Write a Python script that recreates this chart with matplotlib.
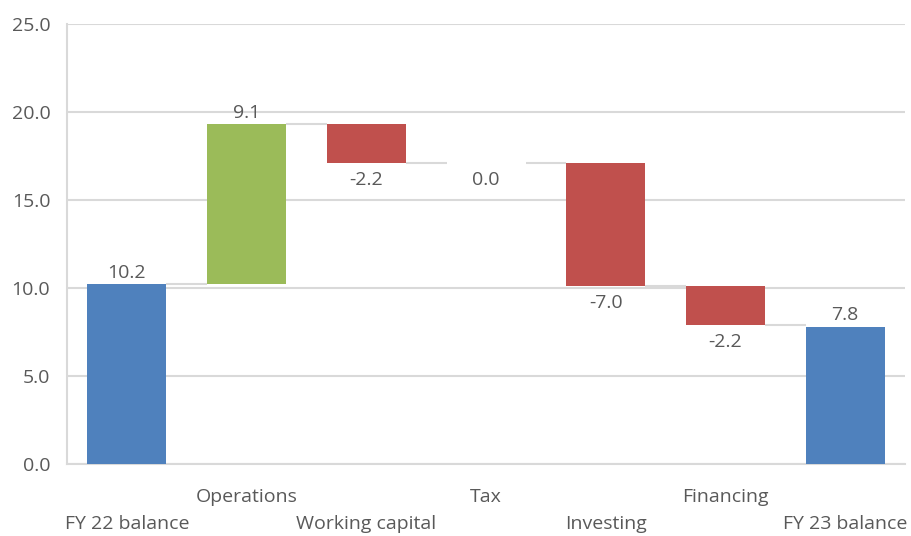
import matplotlib
matplotlib.use("Agg")
import matplotlib.pyplot as plt
from matplotlib.transforms import blended_transform_factory

categories = ["FY 22 balance", "Operations", "Working capital", "Tax",
              "Investing", "Financing", "FY 23 balance"]
changes = [10.2, 9.1, -2.2, 0.0, -7.0, -2.2, 7.8]
is_total = [True, False, False, False, False, False, True]

BLUE = "#4F81BD"
GREEN = "#9BBB59"
RED = "#C0504D"
GRID = "#D9D9D9"
TEXT = "#595959"
FS = 14

plt.rcParams["font.family"] = ["Open Sans", "DejaVu Sans"]

# running totals -> bar bottoms/heights
bottoms, heights, colors, ends = [], [], [], []
run = 0.0
for v, tot in zip(changes, is_total):
    if tot:
        bottoms.append(0.0)
        heights.append(v)
        colors.append(BLUE)
        run = v
    else:
        if v >= 0:
            bottoms.append(run)
            heights.append(v)
            colors.append(GREEN)
        else:
            bottoms.append(run + v)
            heights.append(-v)
            colors.append(RED)
        run = run + v
    ends.append(run)

fig = plt.figure(figsize=(9.11, 5.36), dpi=100)
ax = fig.add_axes([0.0735, 0.1343, 0.92, 0.8209])

x = list(range(len(categories)))
w = 0.66
ax.bar(x, heights, bottom=bottoms, width=w, color=colors, zorder=3)

# connectors
for i in range(len(x) - 1):
    ax.plot([x[i] + w / 2, x[i + 1] - w / 2], [ends[i], ends[i]],
            color=GRID, lw=1.5, zorder=2, solid_capstyle="butt")

# value labels
for i, v in enumerate(changes):
    if is_total[i] or v > 0:
        ax.annotate(f"{v:.1f}", (x[i], bottoms[i] + heights[i]),
                    xytext=(0, 2), textcoords="offset points",
                    ha="center", va="bottom", fontsize=FS, color=TEXT)
    else:
        ax.annotate(f"{v:.1f}", (x[i], bottoms[i]),
                    xytext=(0, -5.5), textcoords="offset points",
                    ha="center", va="top", fontsize=FS, color=TEXT)

ax.set_xlim(-0.5, len(x) - 0.5)
ax.set_ylim(0, 25)
ax.set_yticks([0, 5, 10, 15, 20, 25])
ax.set_yticklabels([f"{t:.1f}" for t in [0, 5, 10, 15, 20, 25]])
ax.yaxis.grid(True, color=GRID, lw=1.5, zorder=0)
ax.tick_params(axis="y", length=0, pad=12, labelsize=FS, labelcolor=TEXT)
ax.set_xticks([])
for s in ["top", "right"]:
    ax.spines[s].set_visible(False)
for s in ["left", "bottom"]:
    ax.spines[s].set_color(GRID)
    ax.spines[s].set_linewidth(1.5)

trans = blended_transform_factory(ax.transData, ax.transAxes)
for i, c in enumerate(categories):
    yy = -0.075 if i % 2 == 1 else -0.136
    ax.text(x[i], yy, c, transform=trans, ha="center", va="center",
            fontsize=FS, color=TEXT)

fig.savefig("out.png", dpi=100, facecolor="white")
